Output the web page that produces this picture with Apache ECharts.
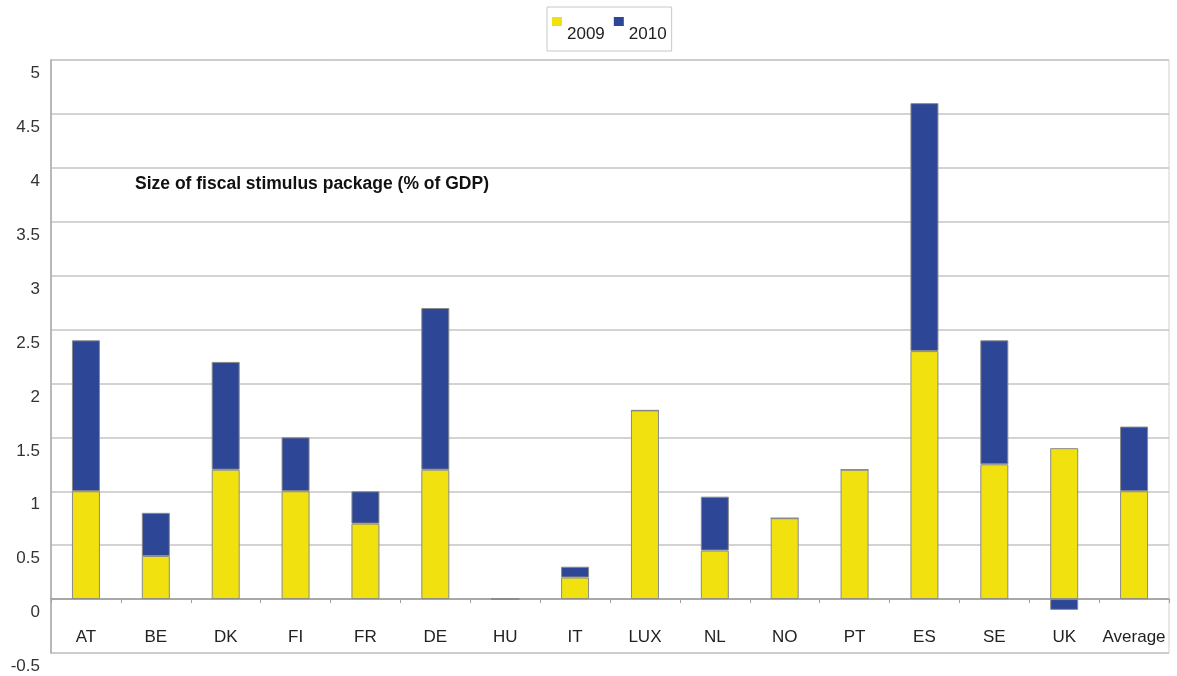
<!DOCTYPE html>
<html>
<head>
<meta charset="utf-8">
<script src="https://cdn.jsdelivr.net/npm/echarts@6/dist/echarts.min.js"></script>
<style>
  html, body { margin: 0; padding: 0; background: #fff; }
  #chart { width: 1177px; height: 676px; }
</style>
</head>
<body>
<div id="chart"></div>
<script>
// Fiscal stimulus by country, % of GDP
const countries = ['AT', 'BE', 'DK', 'FI', 'FR', 'DE', 'HU', 'IT', 'LUX', 'NL', 'NO', 'PT', 'ES', 'SE', 'UK', 'Average'];
const stimulus2009 = [1.0, 0.4, 1.2, 1.0, 0.7, 1.2, 0, 0.2, 1.75, 0.45, 0.75, 1.2, 2.3, 1.25, 1.4, 1.0];
const stimulus2010 = [1.4, 0.4, 1.0, 0.5, 0.3, 1.5, 0, 0.1, 0, 0.5, 0, 0, 2.3, 1.15, -0.1, 0.6];
const yTicks = { min: -0.5, max: 5, step: 0.5 };

const chart = echarts.init(document.getElementById('chart'), null, { renderer: 'canvas' });

const fontFamily = '"Liberation Sans", Arial, sans-serif';
const barBorder = { borderColor: '#8a8a8a', borderWidth: 1 };
// legend swatch: small square at the top of a taller (empty) box so the text sits lower
const swatch = 'path://M0,0h10v9h-10zM0,34';

chart.setOption({
  animation: false,
  backgroundColor: '#ffffff',
  textStyle: { fontFamily: fontFamily },
  legend: {
    data: ['2009', '2010'],
    left: 547,
    top: 7,
    padding: [10, 5, 0, 5],
    itemGap: 9,
    itemWidth: 10,
    itemHeight: 34,
    icon: swatch,
    borderColor: '#c8c8c8',
    borderWidth: 1,
    backgroundColor: '#ffffff',
    itemStyle: { borderWidth: 0 },
    textStyle: { fontSize: 17, color: '#222' }
  },
  title: {
    text: 'Size of fiscal stimulus package (% of GDP)',
    left: 135,
    top: 175,
    padding: 0,
    textStyle: { fontSize: 17.5, fontWeight: 'bold', color: '#111', fontFamily: fontFamily }
  },
  grid: {
    left: 51,
    right: 8,
    top: 60,
    bottom: 23,
    show: true,
    borderColor: '#d0d0d0',
    borderWidth: 1,
    outerBoundsMode: 'none',
    containLabel: false
  },
  xAxis: {
    type: 'category',
    data: countries,
    axisLine: { onZero: true, lineStyle: { color: '#9a9a9a', width: 1.5 } },
    axisTick: { show: true, length: 4, lineStyle: { color: '#a0a0a0' } },
    axisLabel: { inside: true, margin: 7, fontSize: 17, color: '#222', interval: 0 },
    splitLine: { show: false }
  },
  yAxis: {
    type: 'value',
    min: yTicks.min,
    max: yTicks.max,
    interval: yTicks.step,
    axisLine: { show: true, lineStyle: { color: '#a8a8a8', width: 1.5 } },
    axisTick: { show: false },
    // tick values hang just below their gridlines
    axisLabel: { fontSize: 17, color: '#333', margin: 11, verticalAlign: 'top', padding: [5, 0, 0, 0] },
    splitLine: { show: true, lineStyle: { color: '#c4c4c4', width: 1.5 } }
  },
  series: [
    {
      name: '2009',
      type: 'bar',
      stack: 'total',
      barWidth: 28,
      data: stimulus2009,
      itemStyle: Object.assign({ color: '#f1e20f' }, barBorder)
    },
    {
      name: '2010',
      type: 'bar',
      stack: 'total',
      barWidth: 28,
      data: stimulus2010,
      itemStyle: Object.assign({ color: '#2d4695' }, barBorder)
    }
  ]
});
</script>
</body>
</html>
